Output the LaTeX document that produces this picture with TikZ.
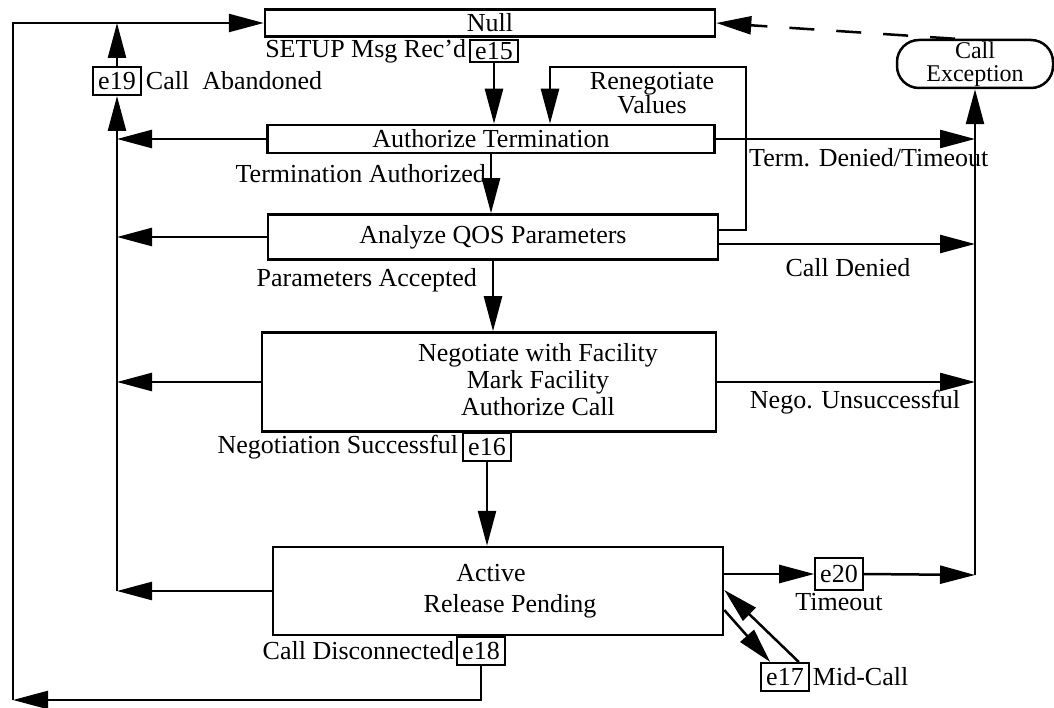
\documentclass[tikz,border=0pt]{standalone}
\usepackage{fontspec}
\setmainfont{Liberation Serif}
\usetikzlibrary{arrows.meta,positioning,calc}
\tikzset{
  fsm state/.style={rectangle, draw, line width=2.5pt, inner sep=0pt},
  fsm event/.style={rectangle, draw, line width=2pt, inner xsep=5pt, inner ysep=1pt, minimum height=28pt},
  fsm exception/.style={rectangle, rounded corners=22pt, draw, line width=2.5pt, align=center, minimum width=156pt, minimum height=48pt, inner sep=0pt},
  fsm label/.style={inner sep=1pt},
  fsm flow/.style={line width=2.5pt, -{Triangle[length=35pt,width=18pt]}}
}

\begin{document}
\begin{tikzpicture}[x=1pt, y=-1pt, font=\fontsize{26}{21}\selectfont]
    \useasboundingbox (0,0) rectangle (1054,708);

    % States
    \node [fsm state, minimum width=450pt, minimum height=27pt] (null) at (490,23) {Null};
    \node [fsm state, minimum width=447pt, minimum height=28pt] (auth) at (491,139) {Authorize Termination};
    \node [fsm state, minimum width=450pt, minimum height=45pt] (qos) at (493,237) {Analyze QOS Parameters};
    \node [fsm state, minimum width=454pt, minimum height=99pt] (nego) at (489,382) {};
    \node [align=center, font=\fontsize{26}{27}\selectfont] (negotxt) at (538,380) {Negotiate with Facility\\Mark Facility\\Authorize Call};
    \node [fsm state, minimum width=450pt, minimum height=88pt] (active) at (498,591) {};
    \node (activetxt) at (491,573) {Active};
    \node (releasetxt) at (510,606) {Release Pending};
    \node [fsm exception, font=\fontsize{24}{23}\selectfont] (exc) at (975,64) {Call\\Exception};

    % Events
    \node [fsm event, minimum height=22pt, inner ysep=0pt] (e15) at (494,51) {e15};
    \node [fsm event] (e19) at (117,81) {e19};
    \node [fsm event] (e16) at (487,447) {e16};
    \node [fsm event] (e18) at (481,651) {e18};
    \node [fsm event, minimum height=32pt] (e20) at (839,574) {e20};
    \node [fsm event] (e17) at (785,677) {e17};

    % Bends
    \coordinate (lbus) at (117,591);
    \coordinate (rbus) at (975,575);
    \coordinate (loop) at (13,700);
    \coordinate (renegr) at (746,67);
    \coordinate (renegl) at (550,67);

    % Main flow
    \draw [fsm flow] (e15) -- (e15 |- auth.north);
    \draw [fsm flow] (auth) -- (auth |- qos.north);
    \draw [fsm flow] (qos) -- (qos |- nego.north);
    \draw [fsm flow] (e16) -- (e16 |- active.north);
    \draw [fsm flow] ([yshift=7pt]qos.east) -| (renegr) -- (renegl) -- (renegl |- auth.north);

    % Abandon side
    \draw [fsm flow] (auth.west) -- (auth.west -| lbus);
    \draw [fsm flow] (qos.west) -- (qos.west -| lbus);
    \draw [fsm flow] (nego.west) -- (nego.west -| lbus);
    \draw [fsm flow] (active.west) -- (lbus);
    \draw [fsm flow] (lbus) -- (e19);
    \draw [fsm flow] (e19) -- (e19 |- null.west);
    \draw [fsm flow] (e18.south) |- (loop);
    \draw [fsm flow] (loop) |- (null.west);

    % Exception side
    \draw [fsm flow] (auth.east) -- (auth.east -| rbus);
    \draw [fsm flow] ([yshift=-7pt]qos.east) -- ([yshift=-7pt]qos.east -| rbus);
    \draw [fsm flow] (nego.east) -- (nego.east -| rbus);
    \draw [fsm flow] (active.east |- e20.west) -- (e20.west);
    \draw [fsm flow] (e20.east) -- (rbus);
    \draw [fsm flow] (rbus) -- (exc.south);
    \draw [fsm flow, dash pattern=on 25pt off 22pt] ([xshift=-20pt]exc.north) -- (null.east);

    % Mid-call
    \draw [fsm flow] ([yshift=-19pt]active.east) -- ([xshift=10pt]e17.north west);
    \draw [fsm flow] ([xshift=-11pt]e17.north east) -- ([yshift=1pt]active.east);

    % Labels
    \node [fsm label, left=2pt of e15] (setuplbl) {SETUP Msg Rec'd};
    \node [fsm label, right=3pt of e19] (abandonlbl) {Call\ \ Abandoned};
    \node [fsm label, align=center] (reneglbl) at (652,93) {Renegotiate\\Values};
    \node [fsm label, anchor=west] (deniedlbl) at (748,158) {Term. Denied/Timeout};
    \node [fsm label, anchor=east] (authlbl) at (487,174) {Termination Authorized};
    \node [fsm label, anchor=east] (acceptlbl) at (478,280) {Parameters Accepted};
    \node [fsm label] (calldeniedlbl) at (848,268) {Call Denied};
    \node [fsm label] (negofaillbl) at (855,402) {Nego. Unsuccessful};
    \node [fsm label, left=3pt of e16] (negooklbl) {Negotiation Successful};
    \node [fsm label, left=1pt of e18] (disclbl) {Call Disconnected};
    \node [fsm label] (timeoutlbl) at (839,602) {Timeout};
    \node [fsm label, right=2pt of e17] (midlbl) {Mid-Call};
\end{tikzpicture}
\end{document}
